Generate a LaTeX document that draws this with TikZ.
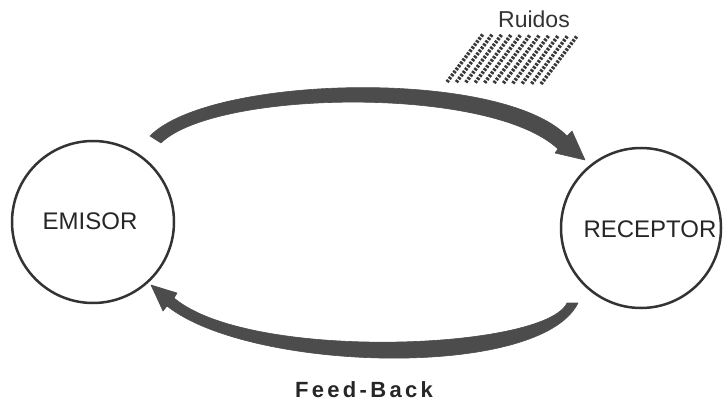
\documentclass[tikz,border=0pt]{standalone}
\usepackage{fontspec}
\setmainfont{Liberation Sans}
\begin{document}
\begin{tikzpicture}[x=1pt,y=-1pt,
  station/.style={circle,draw=black!80,line width=2.5pt,fill=white,minimum size=#1,inner sep=0pt},
  lbl/.style={anchor=base,font=\fontsize{24}{28}\selectfont,text=black!85,inner sep=0pt},
  flow/.style={fill=black!70,draw=black!70,line width=0.6pt,line join=round},
  noise/.style={draw=black!78,line width=3.6pt,dash pattern=on 2.4pt off 1.4pt}]
\useasboundingbox (0,0) rectangle (723,401);
% stations
\node[station=162pt] (emisor) at (93,222) {};
\node[station=160pt] (receptor) at (641,228) {};
\node[lbl] (emisorlbl) at (90,229) {EMISOR};
\node[lbl] (receptorlbl) at (650,237) {RECEPTOR};
% top message arrow (emisor -> receptor)
\coordinate (ta) at (150,136);
\coordinate (tb) at (161,143);
\coordinate (tw1) at (572,131);
\coordinate (ttip) at (585,160);
\coordinate (tw2) at (555,153);
\fill[flow] (ta) .. controls (210,75) and (500,68) .. (567,136)
  -- (tw1) -- (ttip) -- (tw2) -- (558,149)
  .. controls (490,85) and (215,90) .. (tb) -- cycle;
% bottom feed-back arrow (receptor -> emisor)
\coordinate (ba) at (578,303);
\coordinate (bb) at (567,303);
\coordinate (bw1) at (177,293);
\coordinate (btip) at (151,285);
\coordinate (bw2) at (163,311);
\fill[flow] (ba) .. controls (540,380) and (250,372) .. (167,306)
  -- (bw2) -- (btip) -- (bw1) -- (174,298)
  .. controls (250,362) and (545,350) .. (bb) -- cycle;
% noise
\foreach \i in {0,...,10}{
  \draw[noise] (447+\i*9.4,82+\i*0.2) -- ++(36,-48);
}
\node[anchor=base,font=\fontsize{23}{27}\selectfont,text=black!80,inner sep=0pt] (ruidos) at (534,28) {Ruidos};
\node[anchor=base,font=\fontsize{22}{26}\selectfont\bfseries\addfontfeature{LetterSpace=15},text=black!85,inner sep=0pt] (feedback) at (364,397) {Feed-Back};
\end{tikzpicture}
\end{document}
